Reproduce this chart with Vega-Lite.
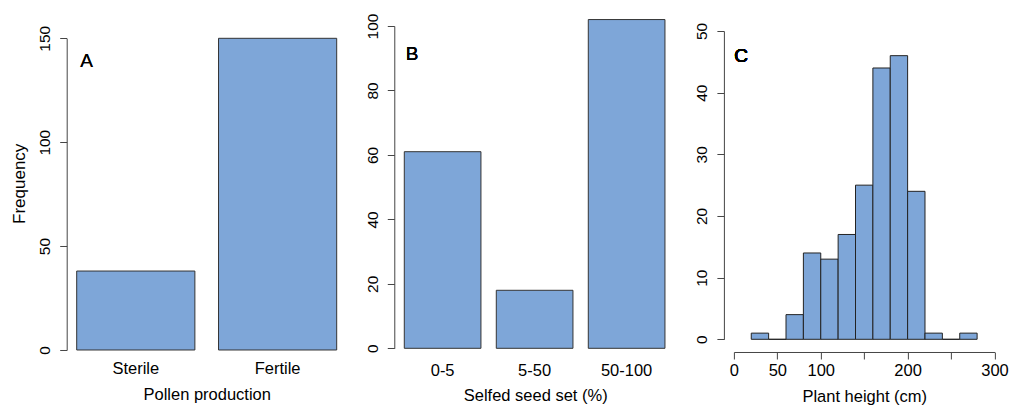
{
  "$schema": "https://vega.github.io/schema/vega-lite/v6.json",
  "padding": {"left": 9.7, "top": 13, "right": 0, "bottom": 0},
  "bounds": "flush",
  "spacing": 47.6,
  "config": {
    "view": {"stroke": null},
    "font": "Liberation Sans",
    "axis": {
      "grid": false,
      "domainColor": "#444444",
      "tickColor": "#444444",
      "labelColor": "#000000",
      "titleColor": "#000000",
      "labelFont": "Liberation Sans",
      "titleFont": "Liberation Sans",
      "titleFontWeight": "normal"
    },
    "axisY": {
      "labelAngle": 270,
      "labelAlign": "center",
      "labelBaseline": "alphabetic",
      "labelFontSize": 15.5,
      "tickSize": 7,
      "labelPadding": 10,
      "domainWidth": 1,
      "labelOverlap": false
    },
    "text": {"font": "Liberation Sans", "color": "#000000", "fontWeight": "normal"}
  },
  "hconcat": [
    {
      "width": 280,
      "height": 334,
      "data": {"values": [
        {"pollen": "Sterile", "n": 38},
        {"pollen": "Fertile", "n": 150}
      ]},
      "layer": [
        {
          "mark": {"type": "bar", "fill": "#7ea6d8", "stroke": "#333333", "strokeWidth": 1},
          "encoding": {
            "x": {
              "field": "pollen", "type": "nominal", "sort": ["Sterile", "Fertile"],
              "scale": {"paddingInner": 0.1667, "paddingOuter": 0.0705},
              "axis": {"title": "Pollen production", "labelAngle": 0, "domain": false, "ticks": false, "tickSize": 0,
                       "labelFontSize": 16.5, "labelBaseline": "alphabetic", "labelPadding": 22,
                       "titleFontSize": 16.5, "titleBaseline": "alphabetic", "titleY": 48}
            },
            "y": {
              "field": "n", "type": "quantitative",
              "scale": {"domain": [0, 150], "range": [332, 20.3], "nice": false, "zero": true},
              "axis": {"values": [0, 50, 100, 150], "title": "Frequency", "titleFontSize": 17,
                       "titleAngle": 270, "titleAlign": "center", "titleBaseline": "alphabetic",
                       "titleX": -42.4, "titleY": 165.3}
            }
          }
        },
        {
          "mark": {"type": "text", "text": "A", "align": "left", "baseline": "alphabetic", "fontSize": 19, "fontWeight": "normal", "dx": 3.5},
          "encoding": {
            "x": {"datum": "Sterile", "type": "nominal", "bandPosition": 0},
            "y": {"datum": 136.3, "type": "quantitative"}
          }
        }
      ]
    },
    {
      "width": 281.8,
      "height": 334,
      "data": {"values": [
        {"seed": "0-5", "n": 61},
        {"seed": "5-50", "n": 18},
        {"seed": "50-100", "n": 102}
      ]},
      "layer": [
        {
          "mark": {"type": "bar", "fill": "#7ea6d8", "stroke": "#333333", "strokeWidth": 1},
          "encoding": {
            "x": {
              "field": "seed", "type": "nominal", "sort": ["0-5", "5-50", "50-100"],
              "scale": {"paddingInner": 0.1667, "paddingOuter": 0.1148, "align": 0.473},
              "axis": {"title": "Selfed seed set (%)", "labelAngle": 0, "domain": false, "ticks": false, "tickSize": 0,
                       "labelFontSize": 16.5, "labelBaseline": "alphabetic", "labelPadding": 23.5,
                       "titleFontSize": 16.5, "titleBaseline": "alphabetic", "titleY": 48.7}
            },
            "y": {
              "field": "n", "type": "quantitative",
              "scale": {"domain": [0, 100], "range": [330.3, 8], "nice": false, "zero": true},
              "axis": {"values": [0, 20, 40, 60, 80, 100], "title": null}
            }
          }
        },
        {
          "mark": {"type": "text", "text": "B", "align": "left", "baseline": "alphabetic", "fontSize": 19, "fontWeight": "normal", "dx": 1.5},
          "encoding": {
            "x": {"datum": "0-5", "type": "nominal", "bandPosition": 0},
            "y": {"datum": 89.45, "type": "quantitative"}
          }
        }
      ]
    },
    {
      "width": 281.5,
      "height": 334,
      "data": {"values": [
        {"h0": 20, "h1": 40, "n": 1},
        {"h0": 40, "h1": 60, "n": 0},
        {"h0": 60, "h1": 80, "n": 4},
        {"h0": 80, "h1": 100, "n": 14},
        {"h0": 100, "h1": 120, "n": 13},
        {"h0": 120, "h1": 140, "n": 17},
        {"h0": 140, "h1": 160, "n": 25},
        {"h0": 160, "h1": 180, "n": 44},
        {"h0": 180, "h1": 200, "n": 46},
        {"h0": 200, "h1": 220, "n": 24},
        {"h0": 220, "h1": 240, "n": 1},
        {"h0": 240, "h1": 260, "n": 0},
        {"h0": 260, "h1": 280, "n": 1}
      ]},
      "layer": [
        {
          "mark": {"type": "rect", "fill": "#7ea6d8", "stroke": "#222222", "strokeWidth": 1},
          "encoding": {
            "x": {
              "field": "h0", "type": "quantitative",
              "scale": {"domain": [0, 300], "range": [10, 270.6], "nice": false, "zero": false},
              "axis": {"title": "Plant height (cm)", "values": [0, 50, 100, 150, 200, 250, 300],
                       "labelExpr": "datum.value == 150 || datum.value == 250 ? '' : datum.label",
                       "labelOverlap": false, "labelFlush": false,
                       "tickSize": 7, "labelFontSize": 16.5, "labelBaseline": "alphabetic", "labelPadding": 17,
                       "titleFontSize": 16.5, "titleBaseline": "alphabetic", "titleY": 49.7}
            },
            "x2": {"field": "h1"},
            "y": {
              "field": "n", "type": "quantitative",
              "scale": {"domain": [0, 50], "range": [321.3, 13], "nice": false, "zero": true},
              "axis": {"values": [0, 10, 20, 30, 40, 50], "title": null}
            },
            "y2": {"datum": 0}
          }
        },
        {
          "mark": {"type": "text", "text": "C", "align": "left", "baseline": "alphabetic", "fontSize": 19, "fontWeight": "normal"},
          "encoding": {
            "x": {"datum": 0.5, "type": "quantitative"},
            "y": {"datum": 45.0, "type": "quantitative"}
          }
        }
      ]
    }
  ]
}
